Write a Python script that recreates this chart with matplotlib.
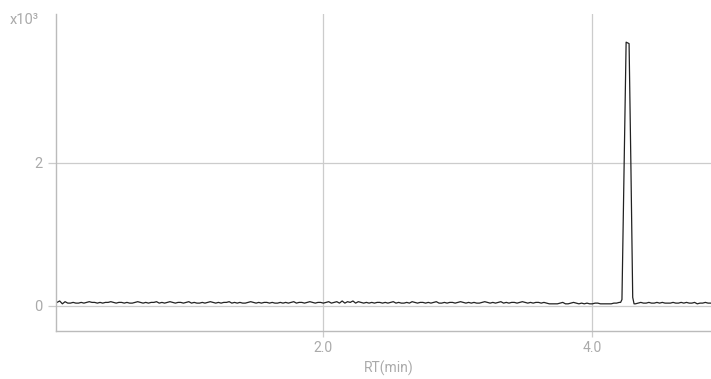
import numpy as np
import matplotlib.pyplot as plt

plt.rcParams['font.family'] = ['Roboto', 'DejaVu Sans']

# chromatogram, intensity in x10^3, one scan every 0.02 min starting at 0.02 min
scan_start = 0.02
scan_step = 0.02
baseline = [
    0.05, 0.07, 0.03, 0.06, 0.04, 0.04, 0.05, 0.04, 0.04, 0.05, 0.04, 0.05, 0.06, 0.05, 0.05, 0.04, 0.05, 0.04, 0.05, 0.05,
    0.06, 0.05, 0.04, 0.05, 0.05, 0.04, 0.05, 0.04, 0.04, 0.05, 0.06, 0.05, 0.04, 0.05, 0.04, 0.05, 0.05, 0.06, 0.04, 0.05,
    0.04, 0.05, 0.06, 0.05, 0.04, 0.05, 0.05, 0.04, 0.05, 0.06, 0.04, 0.05, 0.04, 0.04, 0.05, 0.04, 0.05, 0.06, 0.05, 0.04,
    0.05, 0.04, 0.05, 0.05, 0.06, 0.04, 0.05, 0.04, 0.05, 0.04, 0.04, 0.05, 0.06, 0.05, 0.04, 0.05, 0.04, 0.05, 0.05, 0.04,
    0.05, 0.04, 0.04, 0.05, 0.04, 0.05, 0.04, 0.05, 0.06, 0.04, 0.05, 0.05, 0.04, 0.05, 0.06, 0.05, 0.04, 0.05, 0.05, 0.04,
    0.05, 0.06, 0.04, 0.05, 0.06, 0.04, 0.07, 0.04, 0.06, 0.05, 0.07, 0.04, 0.06, 0.05, 0.04, 0.05, 0.04, 0.05, 0.04, 0.05,
    0.05, 0.04, 0.05, 0.04, 0.05, 0.06, 0.04, 0.05, 0.04, 0.04, 0.05, 0.04, 0.06, 0.05, 0.04, 0.05, 0.05, 0.04, 0.05, 0.04,
    0.05, 0.06, 0.04, 0.04, 0.05, 0.04, 0.05, 0.05, 0.04, 0.05, 0.06, 0.05, 0.04, 0.05, 0.04, 0.05, 0.04, 0.04, 0.05, 0.06,
    0.05, 0.04, 0.05, 0.04, 0.05, 0.06, 0.04, 0.05, 0.04, 0.05, 0.05, 0.04, 0.05, 0.06, 0.05, 0.04, 0.05, 0.04, 0.05, 0.05,
    0.04, 0.05, 0.04, 0.03, 0.03, 0.03, 0.03, 0.04, 0.05, 0.03, 0.03, 0.04, 0.05, 0.04, 0.03, 0.04, 0.03, 0.04, 0.03, 0.03,
    0.04, 0.04, 0.03, 0.03, 0.03, 0.03, 0.03, 0.04, 0.04, 0.05, 0.05, 0.05, 0.05, 0.05, 0.05, 0.03, 0.04, 0.05, 0.04, 0.04,
    0.05, 0.04, 0.04, 0.05, 0.04, 0.05, 0.04, 0.04, 0.04, 0.05, 0.04, 0.04, 0.05, 0.04, 0.05, 0.04, 0.04, 0.05, 0.03, 0.04,
    0.04, 0.05, 0.04, 0.04,
]

# the peak, sampled more finely
peak_rt = [4.21, 4.22, 4.235, 4.251, 4.262, 4.273, 4.287, 4.30, 4.31]
peak_int = [0.05, 0.09, 1.85, 3.69, 3.68, 3.67, 1.90, 0.12, 0.03]

xticks = [2.0, 4.0]
xtick_labels = ['2.0', '4.0']
yticks = [0, 2]
ytick_labels = ['0', '2']

rt = scan_start + scan_step * np.arange(len(baseline))
intensity = np.array(baseline)
keep = (rt < peak_rt[0]) | (rt > peak_rt[-1])
rt = np.concatenate([rt[keep], peak_rt])
intensity = np.concatenate([intensity[keep], peak_int])
order = np.argsort(rt)
rt, intensity = rt[order], intensity[order]

fig = plt.figure(figsize=(7.11, 3.79), dpi=100)
ax = fig.add_axes([55.7 / 711, 1 - 331 / 379, 1 - 55.7 / 711, (331 - 14) / 379])

ax.plot(rt, intensity, color='#222222', lw=0.9)

ax.set_xlim(0.0104, 4.882)
ax.set_ylim(-0.35, 4.084)

grid_c = '#cccccc'
text_c = '#aaaaaa'
ax.set_xticks(xticks)
ax.set_xticklabels(xtick_labels)
ax.set_yticks(yticks)
ax.set_yticklabels(ytick_labels)
ax.grid(True, color=grid_c, lw=0.9)
ax.tick_params(axis='x', colors=grid_c, labelcolor=text_c, labelsize=10, length=4, width=0.9, pad=3)
ax.tick_params(axis='y', colors=grid_c, labelcolor=text_c, labelsize=10.5, length=5.5, width=0.9, pad=4)
for lbl in ax.get_yticklabels():
    lbl.set_va('center_baseline')

for s in ['top', 'right']:
    ax.spines[s].set_visible(False)
for s in ['left', 'bottom']:
    ax.spines[s].set_color('#bbbbbb')
    ax.spines[s].set_linewidth(1.0)

ax.set_xlabel('RT(min)', color=text_c, fontsize=10)
ax.xaxis.label.set_va('center')
ax.xaxis.set_label_coords((389 - 55.7) / (711 - 55.7), (331 - 368) / (331 - 14))

fig.text(10 / 711, 1 - 20 / 379, 'x10³', color=text_c, fontsize=10.5, ha='left', va='center')

fig.savefig('out.png', dpi=100)
